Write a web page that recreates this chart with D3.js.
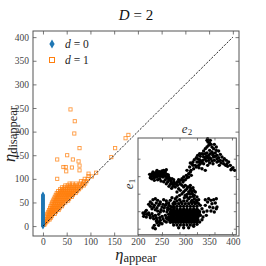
<!DOCTYPE html>
<html><head><meta charset="utf-8">
<script src="https://cdn.jsdelivr.net/npm/d3@7"></script>
<style>body{margin:0;background:#fff}svg{display:block}text{font-family:"Liberation Serif","DejaVu Serif",serif}</style>
</head><body><svg id="c" width="266" height="266"></svg>
<script>
const mainTicks = [0,50,100,150,200,250,300,350,400];
const diagLine = [[0,0],[400,400]];
// d = 0 : eta_appear = 0
const d0Y = [0,2,4,6,8,10,12,14,16,18,20,22,24,26,28,30,32,34,36,38,40,42,44,46,48,50,52,54,56,58,60,62,64,66];
// d = 1 : dense cloud [eta_appear, eta_disappear]
const d1Dense = [
[1,3],[3,3],[2,6],[5,6],[3,10],[6,10],[9,10],[5,14],[8,14],[11,14],[14,14],
[6,18],[10,18],[14,18],[17,18],[7,22],[11,22],[15,22],[19,22],
[9,26],[13,26],[17,26],[21,26],[25,26],[11,30],[15,30],[19,30],[23,30],[27,30],
[13,34],[17,34],[21,34],[25,34],[29,34],[33,34],[15,38],[19,38],[23,38],[27,38],[31,38],[35,38],
[16,42],[20,42],[24,42],[28,42],[32,42],[36,42],[40,42],[18,46],[22,46],[26,46],[30,46],[34,46],[38,46],[42,46],
[19,50],[23,50],[27,50],[31,50],[35,50],[39,50],[43,50],[47,50],
[21,54],[25,54],[29,54],[33,54],[37,54],[41,54],[45,54],[49,54],[53,54],
[23,58],[27,58],[31,58],[35,58],[39,58],[43,58],[47,58],[51,58],[55,58],
[25,62],[29,62],[33,62],[37,62],[41,62],[45,62],[49,62],[53,62],[57,62],[61,62],
[27,66],[31,66],[35,66],[39,66],[43,66],[47,66],[51,66],[55,66],[59,66],[63,66],
[29,70],[33,70],[37,70],[41,70],[45,70],[49,70],[53,70],[57,70],[61,70],[65,70],[69,70],
[32,74],[36,74],[40,74],[44,74],[48,74],[52,74],[56,74],[60,74],[64,74],[68,74],[72,74],
[36,78],[40,78],[44,78],[48,78],[52,78],[56,78],[60,78],[64,78],[68,78],[72,78],[76,78],
[40,82],[45,82],[50,82],[55,82],[60,82],[65,82],[70,82],[75,82],[80,82],
[47,86],[52,86],[57,86],[62,86],[67,86],[72,86],[77,86],[82,86],[86,86],
[56,90],[62,90],[70,90],[78,90],[84,90],[89,90],[80,95],[86,95],[92,95],[88,100],[94,100]
];
// d = 1 : scattered points
const d1Sparse = [
[58,247],[67,222],[66,196],[77,165],[51,150],[30,141],[63,141],[75,137],[77,128],[43,125],[48,125],
[61,124],[49,116],[77,118],[30,100],[96,106],[96,111],[103,105],[112,113],[152,165],[144,146],[174,186],[180,193]
];
// inset: [e2, e1]
const insetPts = [
[210,290],[213,285],[218,282],[222,278],[215,275],[225,270],[210,270],[230,265],[238,260],[245,258],[235,252],[225,255],
[218,260],[205,265],[200,258],[195,250],[205,250],[215,245],[228,245],[240,245],[250,248],[255,240],[262,235],[258,228],
[268,230],[275,225],[270,220],[280,215],[288,208],[293,200],[282,202],[266,215],[250,230],[240,235],[232,230],[222,235],
[212,238],[200,240],[190,242],[182,245],[178,238],[188,232],[198,230],[208,228],[218,222],[228,220],[212,215],[200,220],
[190,220],[180,225],[186,208],[195,205],[205,200],[178,210],[172,232],[240,225],[247,215],[220,250],[230,240],[210,252],
[192,228],[185,215],[245,238],
[198,248],[208,242],[218,238],[228,250],[235,242],[245,228],[252,222],[260,220],[272,212],[285,205],[225,228],[215,230],
[205,235],[195,225],[185,225],[175,215],[168,225],[182,235],[188,250],[238,270],[232,278],[220,290],[212,295],
[165,220],[160,222],[158,210],[162,200],[150,200],[155,190],[148,185],[140,180],[135,175],[145,172],[130,170],[125,172],
[120,165],[115,160],[110,165],[100,170],[105,175],[95,180],[90,188],[85,195],[80,200],[75,192],[70,188],[65,195],
[60,200],[55,192],[50,188],[45,190],[42,182],[52,178],[62,182],[68,175],[78,180],[85,172],[92,165],[100,158],
[108,152],[115,150],[122,155],[130,160],[138,165],[110,172],[88,202],
[55,185],[60,190],[75,185],[82,190],[95,172],[102,165],[118,160],[125,165],[140,170],[150,178],[155,180],[163,185],
[160,195],[170,205],[168,215],[64,188],[72,182],[48,182],[105,160],[112,158],
[48,195],[58,194],[68,196],[75,198],[82,184],[90,178],[98,176],[52,170],[44,175],[62,172],[72,168],[80,166],
[88,160],[96,152],[104,146],[58,180],[66,184],[38,188],[40,178],[86,182],[94,186],[78,192],
[125,145],[130,140],[140,135],[145,140],[150,145],[158,150],[162,145],[165,135],[158,130],[150,128],[168,122],[172,115],
[178,110],[176,102],[165,110],[155,115],[142,118],[140,150],[135,155],[160,155],[120,135],[128,112],[115,115],[170,140],
[145,155],[152,150],[160,140],[166,130],[172,125],[160,120],[150,120],[145,125],[155,135],[168,148],[175,135],[180,120],
[185,112],[162,105],[150,108],[140,108],[132,105],[120,108],[170,105],[185,100],[190,95],[180,105],[128,125],[135,130],[120,120],
[48,112],[55,115],[62,110],[70,105],[80,112],[88,108],[95,102],[100,110],[105,118],[58,102],[45,100],[40,105],
[52,95],[65,95],[75,90],[85,95],[92,88],[100,92],[108,100],[112,105],[45,85],[55,82],[62,78],[70,75],
[80,78],[90,75],[95,68],[85,65],[75,62],[65,68],[55,65],[45,70],[35,72],[25,75],[18,72],[20,62],
[28,60],[40,58],[50,55],[60,52],[70,50],[60,42],[52,35],[48,28],[55,25],[65,35],[75,40],[82,48],
[30,68],[38,65],[48,62],[58,58],[68,58],[78,55],[88,58],[92,82],[82,88],[72,82],[60,88],[50,90],[40,92],[35,98],
[28,80],[22,68],[68,100],[78,98],[88,100],[96,95],[105,90],[112,88],[90,55],[88,45],[65,45],[70,42],[58,48],
[115,100],[125,100],[135,100],[145,100],[155,100],[165,100],[175,100],
[110,92],[120,92],[130,92],[140,92],[150,92],[160,92],[170,92],[180,92],
[100,84],[110,84],[120,84],[130,84],[140,84],[150,84],[160,84],[170,84],[180,84],
[104,80],[112,80],[120,80],[128,80],[136,80],[144,80],[152,80],[160,80],[168,80],[176,80],[184,80],
[100,76],[108,76],[116,76],[124,76],[132,76],[140,76],[148,76],[156,76],[164,76],[172,76],[180,76],[188,76],
[104,72],[112,72],[120,72],[128,72],[136,72],[144,72],[152,72],[160,72],[168,72],[176,72],[184,72],
[100,68],[108,68],[116,68],[124,68],[132,68],[140,68],[148,68],[156,68],[164,68],[172,68],[180,68],[188,68],
[104,64],[112,64],[120,64],[128,64],[136,64],[144,64],[152,64],[160,64],[168,64],[176,64],[184,64],
[95,60],[103,60],[111,60],[119,60],[127,60],[135,60],[143,60],[151,60],[159,60],[167,60],[175,60],[183,60],
[99,56],[107,56],[115,56],[123,56],[131,56],[139,56],[147,56],[155,56],[163,56],[171,56],[179,56],
[95,52],[103,52],[111,52],[119,52],[127,52],[135,52],[143,52],[151,52],[159,52],[167,52],[175,52],[183,52],
[99,48],[107,48],[115,48],[123,48],[131,48],[139,48],[147,48],[155,48],[163,48],[171,48],[179,48],
[100,44],[108,44],[116,44],[124,44],[132,44],[140,44],[148,44],[156,44],[164,44],[172,44],[180,44],
[110,36],[120,36],[130,36],[140,36],[150,36],[160,36],[170,36],[125,28],[140,28],[155,28],
[205,112],[215,115],[222,110],[230,112],[238,115],[212,105],[225,100],[235,102],[205,95],[218,90],[228,88],[238,85],
[195,85],[200,75],[210,78],[222,78],[190,65],[198,60],[208,65],[195,52],[188,45],[180,38],[170,32],[240,90],[232,75]
];
const insetTicksX = [75,127.5,180,232.5,285];
const insetTicksY = [25,77.5,130,182.5,235];

const svg = d3.select("#c");
svg.append("rect").attr("width",266).attr("height",266).attr("fill","#fff");
const x = d3.scaleLinear().domain([-21,413]).range([33,239]);
const y = d3.scaleLinear().domain([-21,413]).range([236,31]);
const blue = "#1f77b4", orange = "#ff7f0e", axisCol = "#555", txtCol = "#444";
const serif = "'Liberation Serif','DejaVu Serif',serif";

// axes (ticks inward)
const tl = 3.5;
const gB = svg.append("g").attr("transform","translate(0,236)").call(d3.axisBottom(x).tickValues(mainTicks).tickSizeInner(-tl).tickSizeOuter(0).tickPadding(4));
const gT = svg.append("g").attr("transform","translate(0,31)").call(d3.axisTop(x).tickValues(mainTicks).tickSizeInner(-tl).tickSizeOuter(0).tickFormat(""));
const gL = svg.append("g").attr("transform","translate(33,0)").call(d3.axisLeft(y).tickValues(mainTicks).tickSizeInner(-tl).tickSizeOuter(0).tickPadding(4));
const gR = svg.append("g").attr("transform","translate(239,0)").call(d3.axisRight(y).tickValues(mainTicks).tickSizeInner(-tl).tickSizeOuter(0).tickFormat(""));
[gB,gT,gL,gR].forEach(g=>{
  g.attr("font-family",serif);
  g.select(".domain").remove();
  g.selectAll("line").attr("stroke",axisCol).attr("stroke-width",0.8);
  g.selectAll("text").attr("fill",txtCol).style("font-size","9.5px").style("font-family",serif);
});
gB.selectAll("text").attr("dy","0.5em");

// points d=1
svg.append("g").selectAll("rect").data(d1Dense.concat(d1Sparse)).join("rect")
  .attr("x",d=>x(d[0])-1.6).attr("y",d=>y(d[1])-1.6).attr("width",3.2).attr("height",3.2)
  .attr("fill","none").attr("stroke",orange).attr("stroke-width",0.9).attr("stroke-opacity",0.8);
// points d=0
const diamond = d3.symbol().type(d3.symbolDiamond).size(14);
svg.append("g").selectAll("path").data(d0Y).join("path")
  .attr("d",diamond).attr("transform",d=>`translate(${x(0)},${y(d)})`).attr("fill",blue);

// diagonal dashed
svg.append("path").datum(diagLine).attr("d",d3.line().x(d=>x(d[0])).y(d=>y(d[1])))
  .attr("stroke","#111").attr("stroke-width",0.9).attr("stroke-dasharray","2.2,1.4").attr("fill","none");

// frame
svg.append("rect").attr("x",33).attr("y",31).attr("width",206).attr("height",205)
  .attr("fill","none").attr("stroke",axisCol).attr("stroke-width",1);

// legend
svg.append("path").attr("d",d3.symbol().type(d3.symbolDiamond).size(24)).attr("transform","translate(52,44)").attr("fill",blue);
svg.append("rect").attr("x",49.5).attr("y",57.5).attr("width",5).attr("height",5).attr("fill","none").attr("stroke",orange).attr("stroke-width",1);
const lg = [["0",48],["1",64]];
lg.forEach(([v,yy])=>{
  const t = svg.append("text").attr("x",65).attr("y",yy).attr("fill","#222").style("font-size","11.5px").style("font-family",serif);
  t.append("tspan").style("font-style","italic").text("d");
  t.append("tspan").text(" = "+v);
});

// title
const tt = svg.append("text").attr("x",136).attr("y",20).attr("text-anchor","middle").attr("fill","#111").style("font-size","15px").style("font-family",serif);
tt.append("tspan").style("font-style","italic").text("D");
tt.append("tspan").text(" = 2");

// axis labels
const xl = svg.append("text").attr("x",136).attr("y",260).attr("text-anchor","middle").attr("fill","#222").style("font-family",serif);
xl.append("tspan").style("font-style","italic").style("font-size","16.5px").text("η");
xl.append("tspan").attr("dy",2).style("font-size","12.5px").text("appear");
const yl = svg.append("text").attr("transform","translate(15,134) rotate(-90)").attr("text-anchor","middle").attr("fill","#222").style("font-family",serif);
yl.append("tspan").style("font-style","italic").style("font-size","16.5px").text("η");
yl.append("tspan").attr("dy",2).style("font-size","12.5px").text("disappear");

// inset
const ix = d3.scaleLinear().domain([3,298]).range([138,236.3]);
const iy = d3.scaleLinear().domain([7,297]).range([234.7,138]);
svg.append("rect").attr("x",138).attr("y",138).attr("width",98.3).attr("height",96.7).attr("fill","#fff");
const itl = 2.5;
const iB = svg.append("g").attr("transform","translate(0,234.7)").call(d3.axisBottom(ix).tickValues(insetTicksX).tickSizeInner(-itl).tickSizeOuter(0).tickFormat(""));
const iT = svg.append("g").attr("transform","translate(0,138)").call(d3.axisTop(ix).tickValues(insetTicksX).tickSizeInner(-itl).tickSizeOuter(0).tickFormat(""));
const iL = svg.append("g").attr("transform","translate(138,0)").call(d3.axisLeft(iy).tickValues(insetTicksY).tickSizeInner(-itl).tickSizeOuter(0).tickFormat(""));
const iR = svg.append("g").attr("transform","translate(236.3,0)").call(d3.axisRight(iy).tickValues(insetTicksY).tickSizeInner(-itl).tickSizeOuter(0).tickFormat(""));
[iB,iT,iL,iR].forEach(g=>{ g.select(".domain").remove(); g.selectAll("line").attr("stroke",axisCol).attr("stroke-width",0.8); });
svg.append("g").selectAll("circle").data(insetPts).join("circle")
  .attr("cx",d=>ix(d[0])).attr("cy",d=>iy(d[1])).attr("r",1.7).attr("fill","#000");
svg.append("rect").attr("x",138).attr("y",138).attr("width",98.3).attr("height",96.7)
  .attr("fill","none").attr("stroke",axisCol).attr("stroke-width",1);
const e2 = svg.append("text").attr("x",187).attr("y",133).attr("text-anchor","middle").attr("fill","#333").style("font-size","13px").style("font-family",serif);
e2.append("tspan").style("font-style","italic").text("e");
e2.append("tspan").attr("dy",2).style("font-size","9px").text("2");
const e1 = svg.append("text").attr("transform","translate(133,184) rotate(-90)").attr("text-anchor","middle").attr("fill","#333").style("font-size","13px").style("font-family",serif);
e1.append("tspan").style("font-style","italic").text("e");
e1.append("tspan").attr("dy",2).style("font-size","9px").text("1");
</script></body></html>
